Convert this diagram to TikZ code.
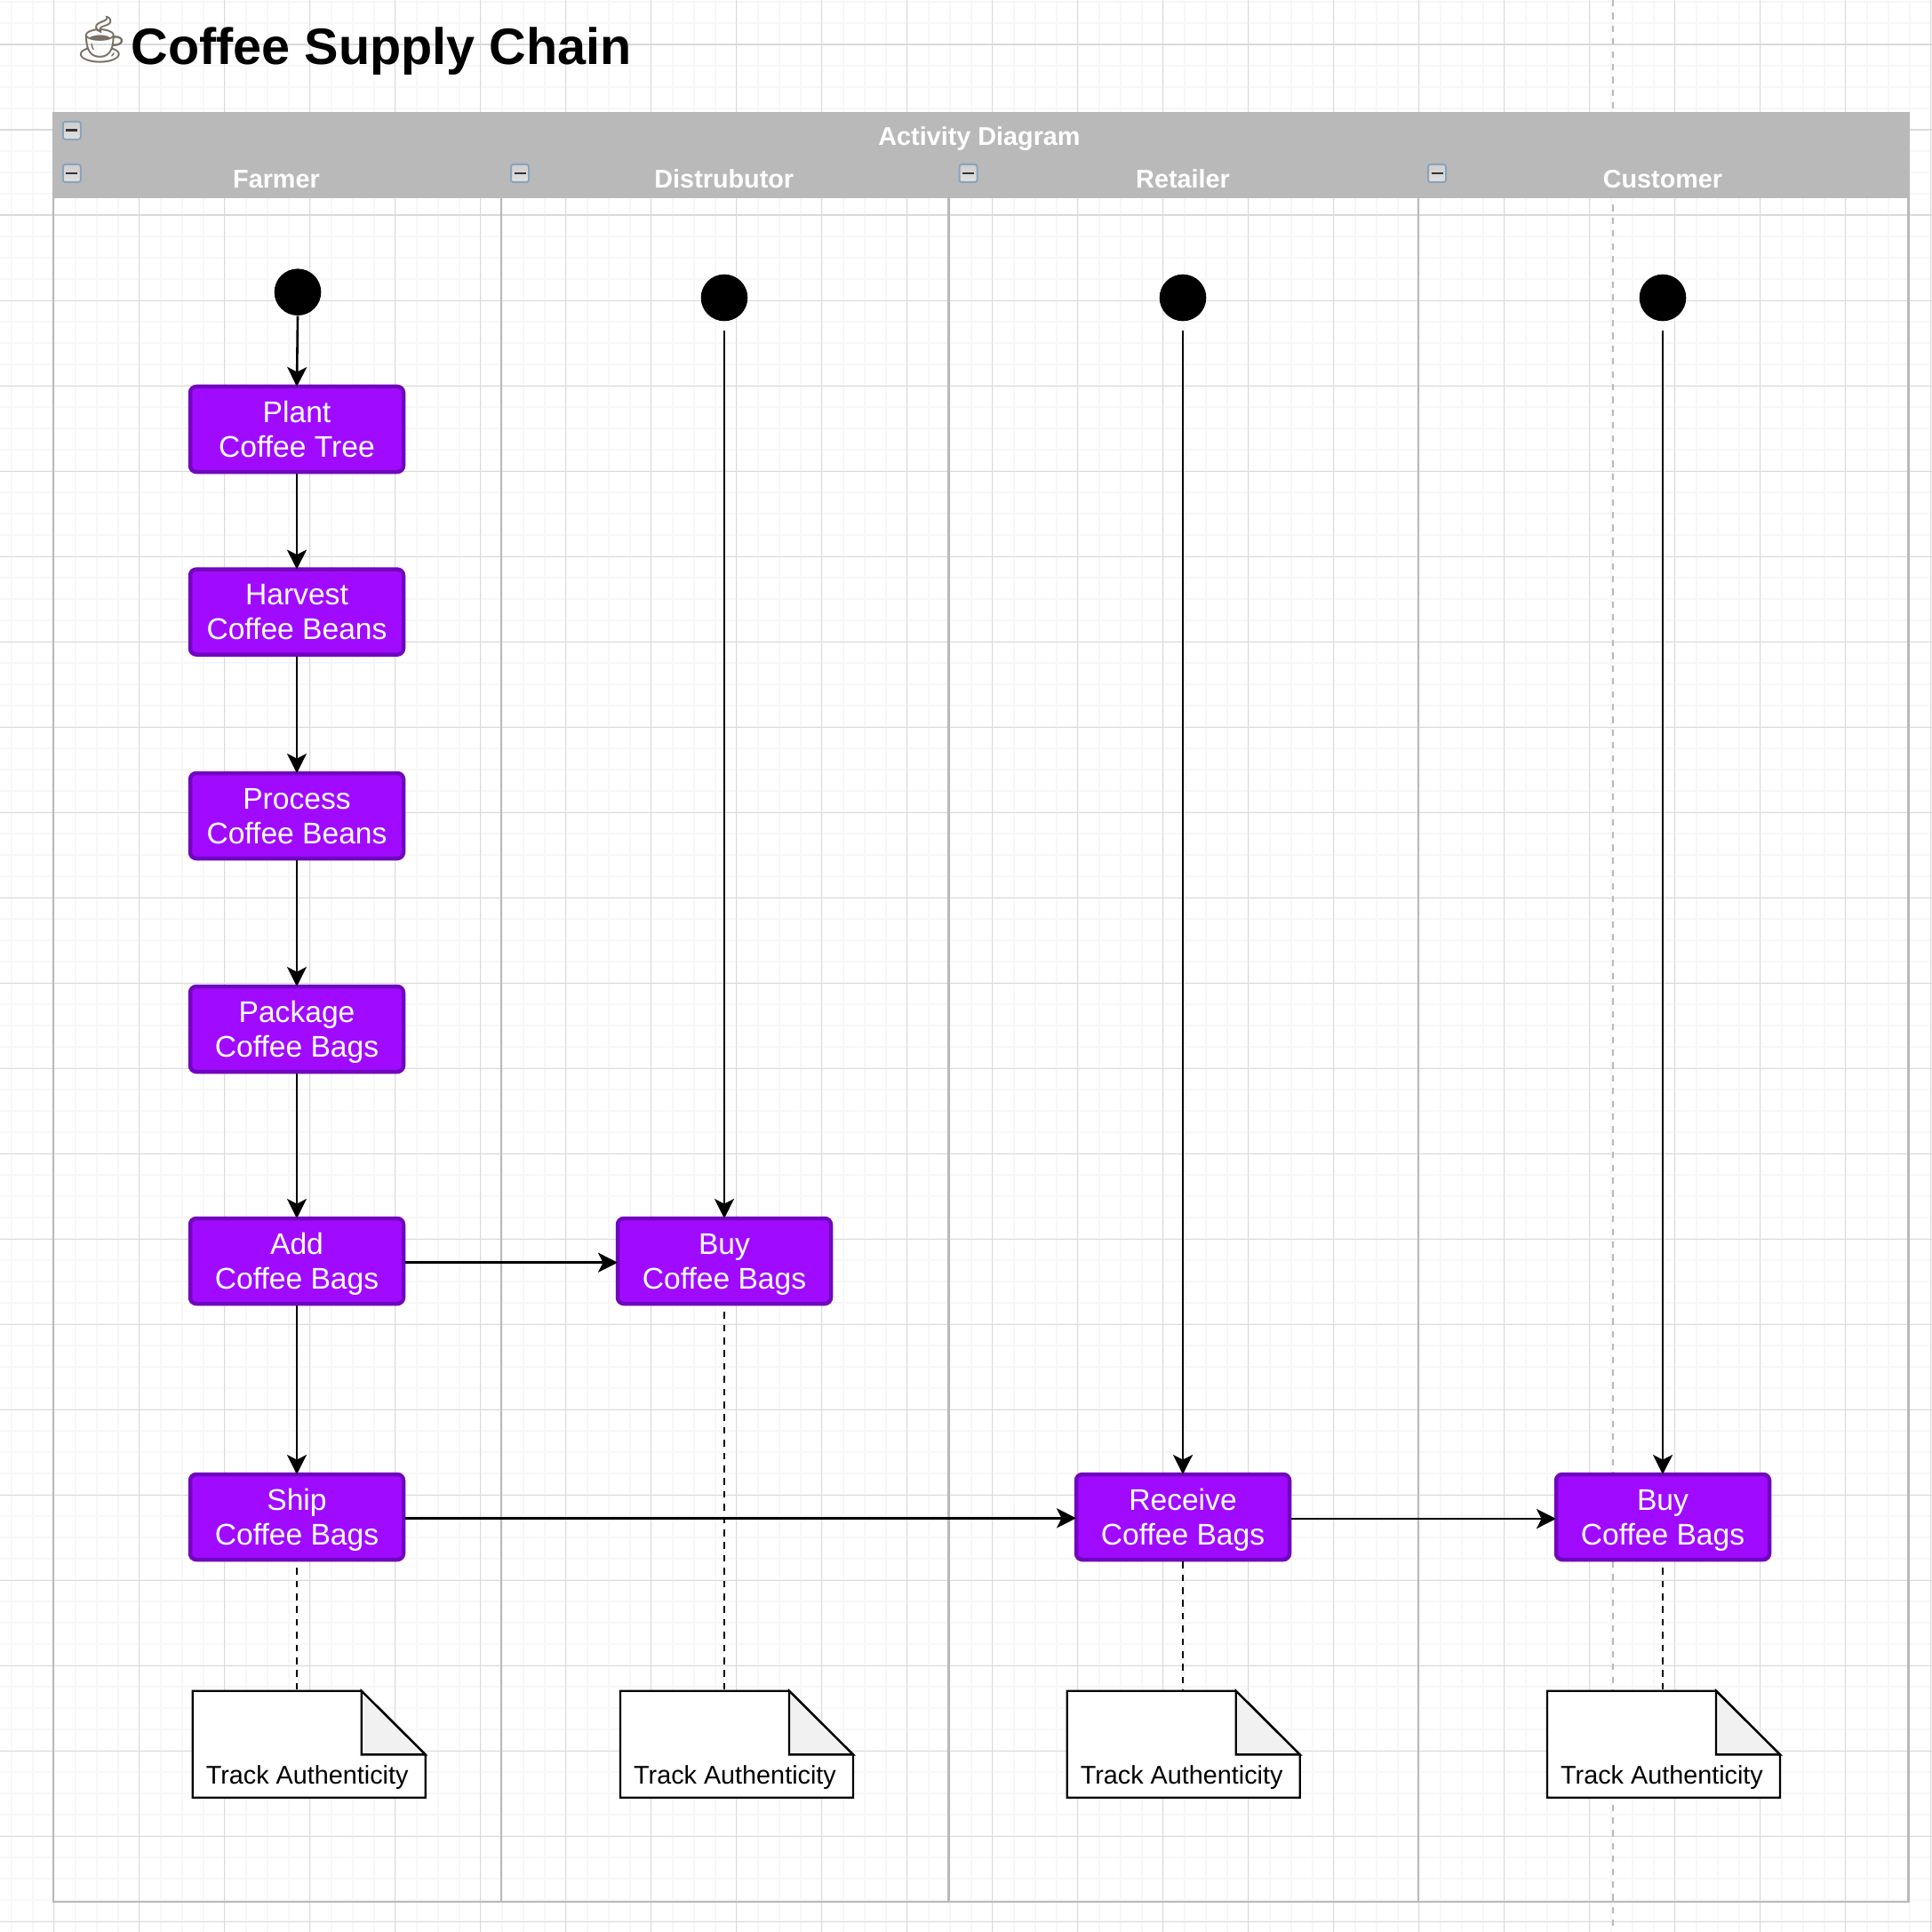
\documentclass[tikz,border=0pt]{standalone}
\usepackage{xcolor}
\usepackage{fontspec}
\setmainfont{Liberation Sans}
\newfontfamily\emojifont{Noto Emoji}
\usetikzlibrary{calc,positioning,arrows.meta}
\definecolor{gridmajor}{HTML}{DADADA}
\definecolor{gridminor}{HTML}{F7F7F7}
\definecolor{lanegrey}{HTML}{B9B9B9}
\definecolor{actfill}{HTML}{A00BFF}
\definecolor{actline}{HTML}{7007BE}
\definecolor{foldcol}{HTML}{F1F1F1}
\definecolor{btnline}{HTML}{8BA3BA}
\definecolor{cupcol}{HTML}{7A6F64}
\tikzset{
  lane/.style      = {draw=lanegrey, line width=0.024cm},
  lanehead/.style  = {text=white, inner sep=0pt, anchor=base,
                      font=\fontsize{8.19}{9.8}\selectfont\bfseries},
  actbox/.style    = {draw=actline, fill=actfill, line width=0.045cm, rounded corners=0.07cm,
                      minimum width=2.4cm, minimum height=0.96cm, inner sep=0pt,
                      align=center, text=white, text depth=0pt,
                      font=\fontsize{9.56}{11.1}\selectfont},
  startdot/.style  = {circle, fill=black, minimum size=0.526cm, inner sep=0pt},
  flow/.style      = {draw=black, line width=0.026cm, shorten >=-0.023cm,
                      -{Stealth[length=0.22cm, width=0.22cm, inset=0.055cm]}},
  trace/.style     = {draw=black, line width=0.028cm, dash pattern=on 0.075cm off 0.069cm},
  notebox/.style   = {minimum width=2.62cm, minimum height=1.2cm, inner sep=0pt, outer sep=0pt},
  noteline/.style  = {draw=black, line width=0.024cm, line join=miter},
  notelab/.style   = {inner sep=0pt, anchor=base, font=\fontsize{8.19}{9.8}\selectfont},
  btn/.style       = {draw=btnline, line width=0.02cm, rounded corners=0.025cm,
                      top color=lanegrey!70!white, bottom color=white!88!black,
                      minimum size=0.2cm, inner sep=0pt},
}
\begin{document}
\begin{tikzpicture}[x=1cm, y=-1cm]
  \useasboundingbox (0,0) rectangle (21.74,21.74);
  \fill[white] (0,0) rectangle (21.74,21.74);

  % ---------- page grid ----------------------------------------------
  \foreach \gi in {0,...,90}
    {\draw[gridminor, line width=0.022cm] ({0.126+0.24*\gi},0) -- ({0.126+0.24*\gi},21.74);
     \draw[gridminor, line width=0.022cm] (0,{0.023+0.24*\gi}) -- (21.74,{0.023+0.24*\gi});}
  \foreach \gi in {0,...,22}
    {\draw[gridmajor, line width=0.016cm] ({0.606+0.96*\gi},0) -- ({0.606+0.96*\gi},21.74);
     \draw[gridmajor, line width=0.016cm] (0,{0.503+0.96*\gi}) -- (21.74,{0.503+0.96*\gi});}
  \draw[lanegrey, line width=0.024cm, dash pattern=on 0.072cm off 0.072cm] (18.15,0) -- (18.15,21.74);

  % ---------- swimlanes ----------------------------------------------
  \fill[lanegrey] (0.586,1.257) rectangle (21.487,2.233);
  \draw[lane] (0.598,2.233) -- (0.598,21.40) -- (21.475,21.40) -- (21.475,2.233);
  \foreach \lx in {5.64,10.676,15.958}
    {\draw[lane] (\lx,2.233) -- (\lx,21.40);}

  \node[lanehead] (headact) at (11.02,1.64) {Activity Diagram};
  \node[lanehead] (headf) at (3.11,2.117) {Farmer};
  \node[lanehead] (headd) at (8.148,2.117) {Distrubutor};
  \node[lanehead] (headr) at (13.31,2.117) {Retailer};
  \node[lanehead] (headc) at (18.71,2.117) {Customer};

  \foreach \bn/\bx/\by in {btna/0.808/1.468, btnf/0.808/1.95, btnd/5.85/1.95,
                           btnr/10.895/1.95, btnc/16.17/1.95}
    {\node[btn] (\bn) at (\bx,\by) {};
     \draw[black!80, line width=0.028cm] ($(\bn.center)+(-0.065,0)$) -- ($(\bn.center)+(0.065,0)$);}

  % ---------- title ---------------------------------------------------
  \node[anchor=base west, inner sep=0pt, font=\fontsize{16.39}{19.7}\selectfont\bfseries] (title)
    at (1.47,0.727) {\llap{\raisebox{2.8pt}{\textcolor{cupcol}{\fontsize{14.8}{17}\selectfont\emojifont\mdseries ☕}}}Coffee Supply Chain};

  % ---------- start points --------------------------------------------
  \node[startdot] (startf) at (3.35,3.287) {};
  \node[startdot] (startd) at (8.15,3.35) {};
  \node[startdot] (startr) at (13.31,3.35) {};
  \node[startdot] (startc) at (18.71,3.35) {};

  % ---------- activities ----------------------------------------------
  \node[actbox] (plant)   at (3.34,4.83)  {Plant\\Coffee Tree};
  \node[actbox] (harvest) at (3.34,6.886) {Harvest\\Coffee Beans};
  \node[actbox] (process) at (3.34,9.18)  {Process\\Coffee Beans};
  \node[actbox] (package) at (3.34,11.58) {Package\\Coffee Bags};
  \node[actbox] (addbags) at (3.34,14.19) {Add\\Coffee Bags};
  \node[actbox] (ship)    at (3.34,17.07) {Ship\\Coffee Bags};
  \node[actbox] (buyd)    at (8.15,14.19) {Buy\\Coffee Bags};
  \node[actbox] (receive) at (13.31,17.07) {Receive\\Coffee Bags};
  \node[actbox] (buyc)    at (18.71,17.07) {Buy\\Coffee Bags};

  % ---------- notes ----------------------------------------------------
  \foreach \nm/\nx in {notef/3.477, noted/8.29, noter/13.317, notec/18.72}
    {\node[notebox] (\nm) at (\nx,19.627) {};
     \draw[noteline, fill=white] (\nm.north west) -- ($(\nm.north east)+(-0.72,0)$)
       -- ($(\nm.north east)+(0,0.717)$) -- (\nm.south east) -- (\nm.south west) -- cycle;
     \draw[noteline, fill=foldcol] ($(\nm.north east)+(-0.72,0)$)
       -- ($(\nm.north east)+(-0.72,0.717)$) -- ($(\nm.north east)+(0,0.717)$) -- cycle;
     \node[notelab] at ($(\nm.south)+(-0.02,-0.15)$) {Track Authenticity};}

  % ---------- flows -----------------------------------------------------
  \draw[flow] (startf.south) -- (plant.north);
  \draw[flow] (plant) -- (harvest);
  \draw[flow] (harvest) -- (process);
  \draw[flow] (process) -- (package);
  \draw[flow] (package) -- (addbags);
  \draw[flow] (addbags) -- (ship);
  \draw[flow, shorten <=0.097cm] (startd) -- (buyd);
  \draw[flow, shorten <=0.097cm] (startr) -- (receive);
  \draw[flow, shorten <=0.097cm] (startc) -- (buyc);
  \draw[flow] ([yshift=-0.017cm]addbags.east) -- ([yshift=-0.017cm]buyd.west);
  \draw[flow] ([yshift=-0.013cm]ship.east) -- ([yshift=-0.013cm]receive.west);
  \draw[flow] ([yshift=-0.02cm]receive.east) -- ([yshift=-0.02cm]buyc.west);

  % ---------- traces ----------------------------------------------------
  \draw[trace, shorten <=0.07cm] (ship.south) -- (ship.south |- notef.north);
  \draw[trace, shorten <=0.07cm] (buyd.south) -- (buyd.south |- noted.north);
  \draw[trace] (receive.south) -- (receive.south |- noter.north);
  \draw[trace, shorten <=0.07cm] (buyc.south) -- (buyc.south |- notec.north);
\end{tikzpicture}
\end{document}
